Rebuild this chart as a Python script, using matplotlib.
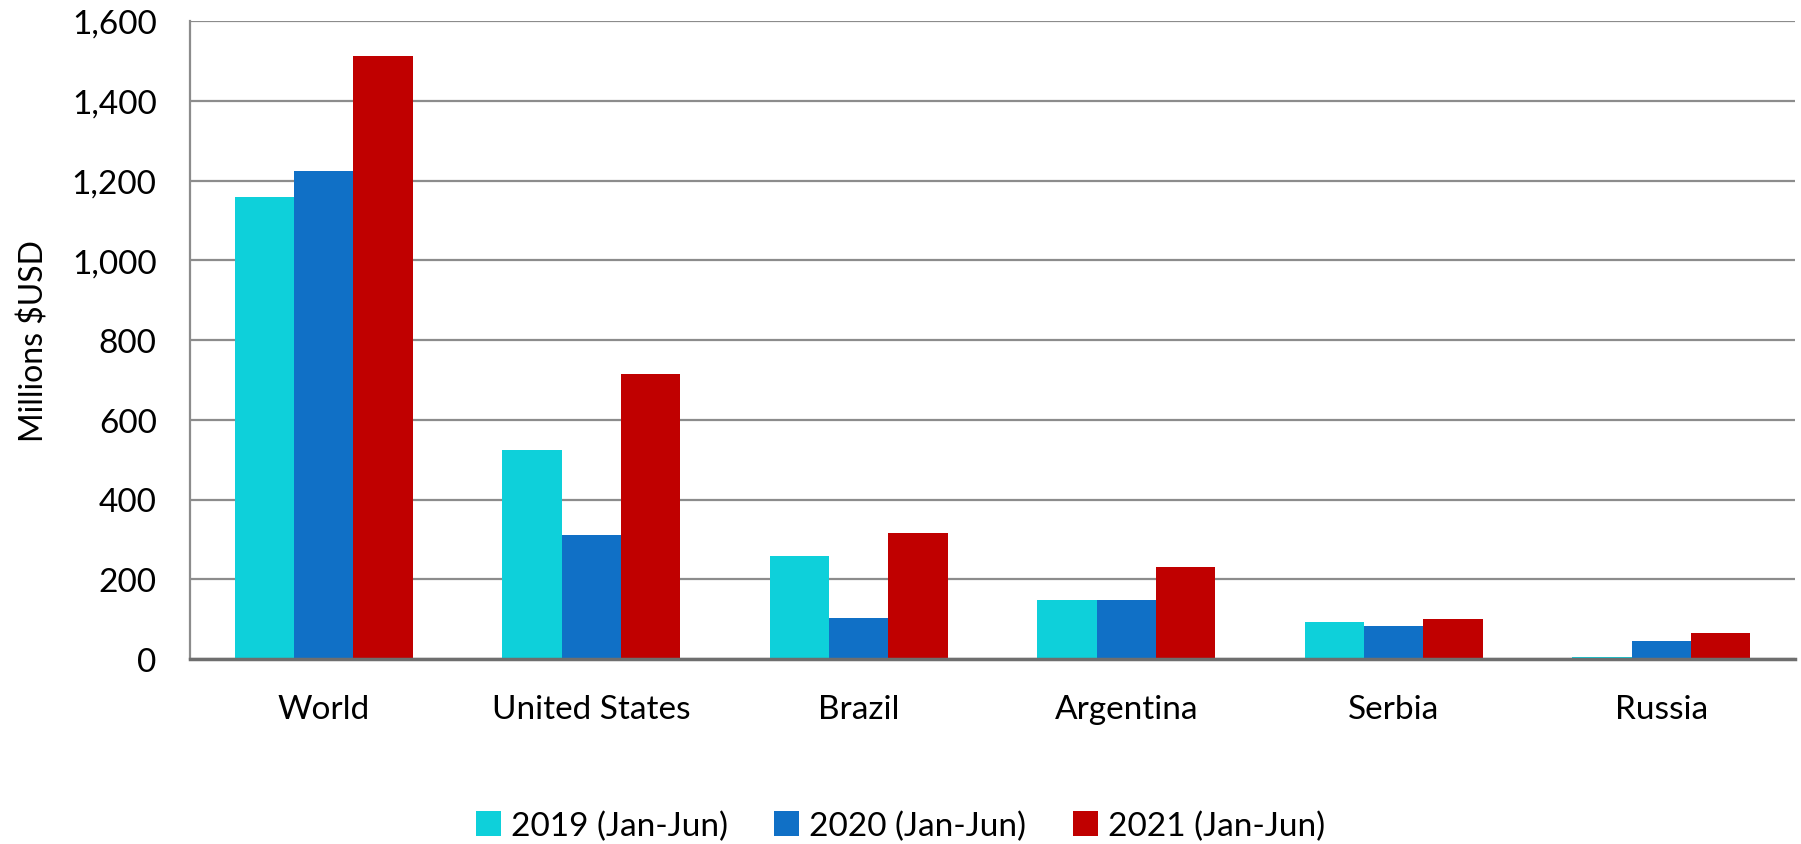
import matplotlib.pyplot as plt
import numpy as np
from matplotlib.ticker import FuncFormatter

countries = ['World', 'United States', 'Brazil', 'Argentina', 'Serbia', 'Russia']
series = ['2019 (Jan-Jun)', '2020 (Jan-Jun)', '2021 (Jan-Jun)']
v2019 = [1158, 524, 259, 147, 94, 4]
v2020 = [1225, 311, 104, 147, 83, 45]
v2021 = [1511, 714, 317, 230, 100, 66]
colors = ['#0ED0DA', '#1070C6', '#C00000']

plt.rcParams['font.family'] = ['Lato', 'DejaVu Sans']

fig = plt.figure(figsize=(18.01, 8.45), dpi=100)
ax = fig.add_axes([190/1801, 1-660/845, (1795-190)/1801, (660-22)/845])

x = np.arange(len(countries))
w = 0.222
for i, (vals, lab, c) in enumerate(zip([v2019, v2020, v2021], series, colors)):
    ax.bar(x + (i-1)*w, vals, w, color=c, label=lab, zorder=3)

ax.set_xlim(-0.5, len(countries)-0.5)
ax.set_ylim(0, 1600)
ax.set_yticks(np.arange(0, 1601, 200))
ax.yaxis.set_major_formatter(FuncFormatter(lambda v, p: f'{int(v):,}'))
ax.set_xticks(x)
ax.set_xticklabels(countries)
ax.tick_params(axis='both', length=0, labelsize=24, colors='black')
ax.tick_params(axis='x', pad=25)
ax.tick_params(axis='y', pad=24)
ax.yaxis.grid(True, color='#8c8c8c', linewidth=1.6, zorder=0)
for s in ['top', 'right']:
    ax.spines[s].set_visible(False)
ax.spines['left'].set_color('#8c8c8c')
ax.spines['left'].set_linewidth(1.6)
ax.spines['bottom'].set_color('#6e6e6e')
ax.spines['bottom'].set_linewidth(2.5)
ax.spines['bottom'].set_zorder(4)
ax.set_ylabel('Millions $USD', fontsize=23, labelpad=16)

fig.legend(loc='center', bbox_to_anchor=(0.5, 1-827/845), ncol=3, frameon=False,
           fontsize=24, handlelength=0.75, handleheight=0.75, handletextpad=0.3,
           columnspacing=1.4)

fig.savefig('out.png', dpi=100)
